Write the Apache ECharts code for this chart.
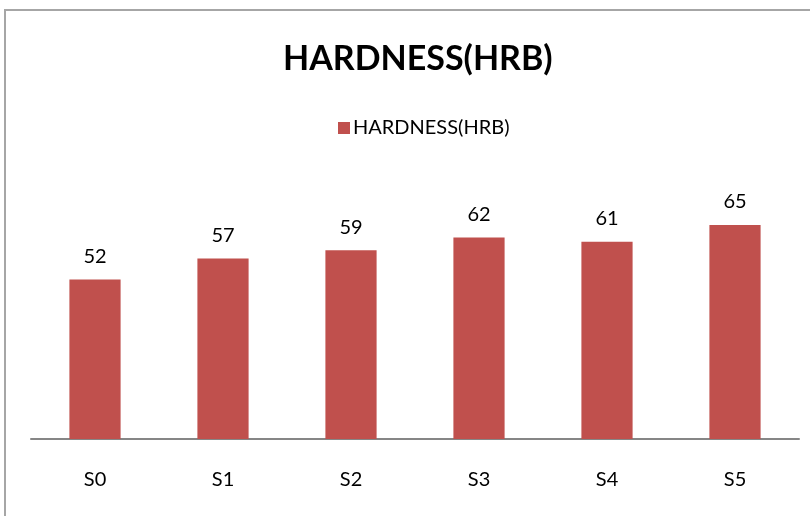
<!DOCTYPE html>
<html>
<head>
<meta charset="utf-8">
<script src="https://cdn.jsdelivr.net/npm/echarts@6/dist/echarts.min.js"></script>
<style>
  html, body { margin: 0; padding: 0; background: #fff; overflow: hidden; }
  #frame {
    position: absolute; left: 4px; top: 9px;
    width: 830px; height: 540px;
    border: 2px solid #a6a6a6;
  }
  #main { position: absolute; left: 0; top: 0; width: 810px; height: 516px; }
</style>
</head>
<body>
<div id="frame"></div>
<div id="main"></div>
<script>
// 数据
const categories = ['S0', 'S1', 'S2', 'S3', 'S4', 'S5']
const hardness = [52, 57, 59, 62, 61, 65]
const seriesName = 'HARDNESS(HRB)'

const myChart = echarts.init(document.getElementById('main')) //初始化实例
myChart.setOption({
  animation: false,
  title: {
    text: 'HARDNESS(HRB)',
    left: 278,
    top: 37,
    textStyle: { fontFamily: 'Lato', fontWeight: 'bold', fontSize: 34, color: '#000' }
  },
  legend: {
    data: [seriesName],
    top: 113,
    left: 333,
    icon: 'rect',
    itemWidth: 12,
    itemHeight: 12,
    itemGap: 4,
    textStyle: { fontFamily: 'Lato', fontSize: 20, color: '#000', padding: [0, 0, 0, -2] }
  },
  grid: { left: 31, right: 11, top: 162, bottom: 77 },
  xAxis: {
    type: 'category',
    data: categories,
    axisLine: { lineStyle: { color: '#868686', width: 2 } },
    axisTick: { show: false },
    axisLabel: { margin: 31, fontFamily: 'Lato', fontSize: 20, color: '#000' }
  },
  yAxis: {
    type: 'value',
    min: 14,
    max: 80,
    show: false,
    splitLine: { show: false }
  },
  series: [
    {
      name: seriesName,
      type: 'bar',
      data: hardness,
      barWidth: '40%',
      itemStyle: { color: '#C0504D' },
      label: {
        show: true,
        position: 'top',
        distance: 13,
        fontFamily: 'Lato',
        fontSize: 20,
        color: '#000'
      }
    }
  ]
})
</script>
</body>
</html>
